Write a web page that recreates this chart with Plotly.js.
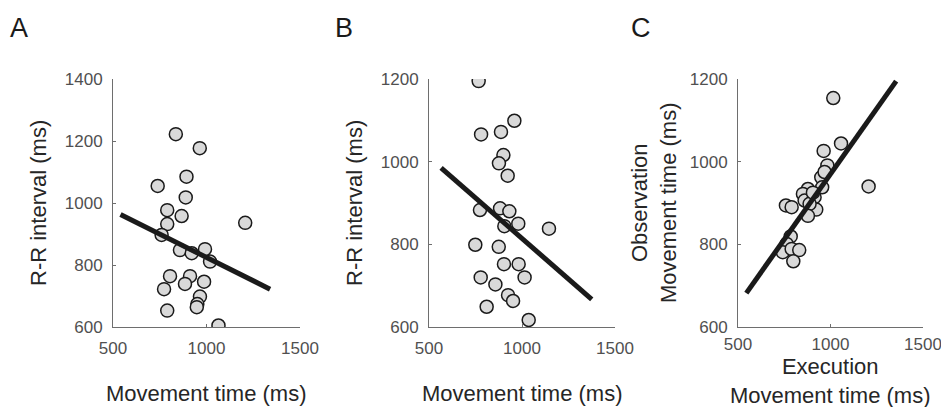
<!DOCTYPE html>
<html>
<head>
<meta charset="utf-8">
<script src="https://cdn.plot.ly/plotly-3.0.1.min.js"></script>
<style>html,body{margin:0;padding:0;background:#fff;}#chart{width:941px;height:407px;}</style>
</head>
<body>
<div id="chart"></div>
<script>
// Panel A: Movement time (ms) vs R-R interval (ms)
const aX = [836, 964, 893, 739, 889, 790, 867, 790, 1207, 760, 858, 921, 992, 1019, 805, 912, 773, 885, 987, 965, 951, 948, 790, 1064];
const aY = [1222, 1177, 1085, 1055, 1018, 977, 958, 932, 936, 897, 848, 838, 851, 811, 764, 764, 722, 739, 746, 698, 674, 664, 653, 605];
const aFitX = [540, 1340];
const aFitY = [963, 722];

// Panel B: Movement time (ms) vs R-R interval (ms)
const bX = [767, 959, 780, 887, 900, 876, 923, 774, 882, 932, 980, 905, 1145, 749, 875, 903, 982, 778, 1014, 857, 925, 952, 810, 1036];
const bY = [1195, 1099, 1066, 1072, 1016, 996, 966, 883, 887, 880, 850, 844, 838, 799, 794, 752, 752, 720, 720, 703, 677, 663, 649, 617];
const bFitX = [565, 1375];
const bFitY = [985, 667];

// Panel C: Execution vs Observation movement time (ms)
const cX = [1015, 1057, 963, 983, 950, 1206, 955, 878, 851, 914, 860, 759, 790, 923, 887, 878, 785, 763, 742, 790, 831, 799, 968, 905];
const cY = [1154, 1044, 1026, 991, 962, 940, 938, 934, 922, 914, 906, 894, 890, 884, 898, 869, 819, 801, 781, 789, 786, 759, 975, 925];
const cFitX = [545, 1355];
const cFitY = [682, 1195];

const xTicks = [500, 1000, 1500];
const yTicksA = [600, 800, 1000, 1200, 1400];
const yTicksBC = [600, 800, 1000, 1200];

const panelLabels = ['A', 'B', 'C'];
const xTitle = 'Movement time (ms)';
const yTitleAB = 'R-R interval (ms)';
const xTitleC = 'Execution<br>Movement time (ms)';
const yTitleC = 'Observation<br>Movement time (ms)';

const W = 941, H = 407;
const px = v => v / W;
const py = v => 1 - v / H;

function scatter(x, y, xa, ya) {
  return {x: x, y: y, xaxis: xa, yaxis: ya, type: 'scatter', mode: 'markers', hoverinfo: 'skip',
    marker: {size: 13, color: '#d9d9d9', line: {color: '#1a1a1a', width: 1.5}}};
}
function fit(x, y, xa, ya) {
  return {x: x, y: y, xaxis: xa, yaxis: ya, type: 'scatter', mode: 'lines', hoverinfo: 'skip',
    line: {color: '#1a1a1a', width: 5}};
}

const data = [
  scatter(aX, aY, 'x', 'y'), fit(aFitX, aFitY, 'x', 'y'),
  scatter(bX, bY, 'x2', 'y2'), fit(bFitX, bFitY, 'x2', 'y2'),
  scatter(cX, cY, 'x3', 'y3'), fit(cFitX, cFitY, 'x3', 'y3')
];

const tickFont = {family: 'Liberation Sans, Arial, sans-serif', size: 17, color: '#505050'};
const titleFont = {family: 'Liberation Sans, Arial, sans-serif', size: 22, color: '#262626'};

function xax(dom, anchor, standoff) {
  return {domain: dom, anchor: anchor, range: [500, 1500], tickvals: xTicks, ticktext: xTicks.map(String),
    showline: true, linecolor: '#6e6e6e', linewidth: 1, ticks: 'inside', ticklen: 3, tickcolor: '#6e6e6e',
    ticklabelstandoff: standoff, ticklabeloverflow: 'allow',
    showgrid: false, zeroline: false, tickfont: tickFont, fixedrange: true};
}
function yax(dom, anchor, range, ticks) {
  return {domain: dom, anchor: anchor, range: range, tickvals: ticks, ticktext: ticks.map(String),
    showline: true, linecolor: '#6e6e6e', linewidth: 1, ticks: 'inside', ticklen: 3, tickcolor: '#6e6e6e',
    ticklabelstandoff: 6, ticklabeloverflow: 'allow',
    showgrid: false, zeroline: false, tickfont: tickFont, fixedrange: true};
}

const yDom = [py(327), py(79)];
const letterFont = {family: 'Liberation Sans, Arial, sans-serif', size: 27, color: '#1a1a1a'};
const layout = {
  width: W, height: H, margin: {l: 0, r: 0, t: 0, b: 0},
  paper_bgcolor: '#ffffff', plot_bgcolor: 'rgba(0,0,0,0)', showlegend: false,
  font: {family: 'Liberation Sans, Arial, sans-serif'},
  xaxis: xax([px(113), px(300)], 'y', 6),
  yaxis: yax(yDom, 'x', [600, 1400], yTicksA),
  xaxis2: xax([px(429), px(615)], 'y2', 6),
  yaxis2: yax(yDom, 'x2', [600, 1200], yTicksBC),
  xaxis3: xax([px(738), px(923)], 'y3', 2),
  yaxis3: yax(yDom, 'x3', [600, 1200], yTicksBC),
  annotations: [
    {text: panelLabels[0], x: px(19), y: py(28), xref: 'paper', yref: 'paper', showarrow: false, xanchor: 'center', yanchor: 'middle', font: letterFont},
    {text: panelLabels[1], x: px(344), y: py(28), xref: 'paper', yref: 'paper', showarrow: false, xanchor: 'center', yanchor: 'middle', font: letterFont},
    {text: panelLabels[2], x: px(641), y: py(28), xref: 'paper', yref: 'paper', showarrow: false, xanchor: 'center', yanchor: 'middle', font: letterFont},
    {text: xTitle, x: px(206), y: py(393), xref: 'paper', yref: 'paper', showarrow: false, xanchor: 'center', yanchor: 'middle', font: titleFont},
    {text: xTitle, x: px(522), y: py(393), xref: 'paper', yref: 'paper', showarrow: false, xanchor: 'center', yanchor: 'middle', font: titleFont},
    {text: xTitleC, x: px(830), y: py(381), xref: 'paper', yref: 'paper', showarrow: false, xanchor: 'center', yanchor: 'middle', font: titleFont},
    {text: yTitleAB, x: px(38), y: py(203), xref: 'paper', yref: 'paper', showarrow: false, xanchor: 'center', yanchor: 'middle', textangle: -90, font: titleFont},
    {text: yTitleAB, x: px(354), y: py(203), xref: 'paper', yref: 'paper', showarrow: false, xanchor: 'center', yanchor: 'middle', textangle: -90, font: titleFont},
    {text: yTitleC, x: px(654), y: py(203), xref: 'paper', yref: 'paper', showarrow: false, xanchor: 'center', yanchor: 'middle', textangle: -90, font: titleFont}
  ]
};

Plotly.newPlot('chart', data, layout, {displayModeBar: false, staticPlot: true});
</script>
</body>
</html>
